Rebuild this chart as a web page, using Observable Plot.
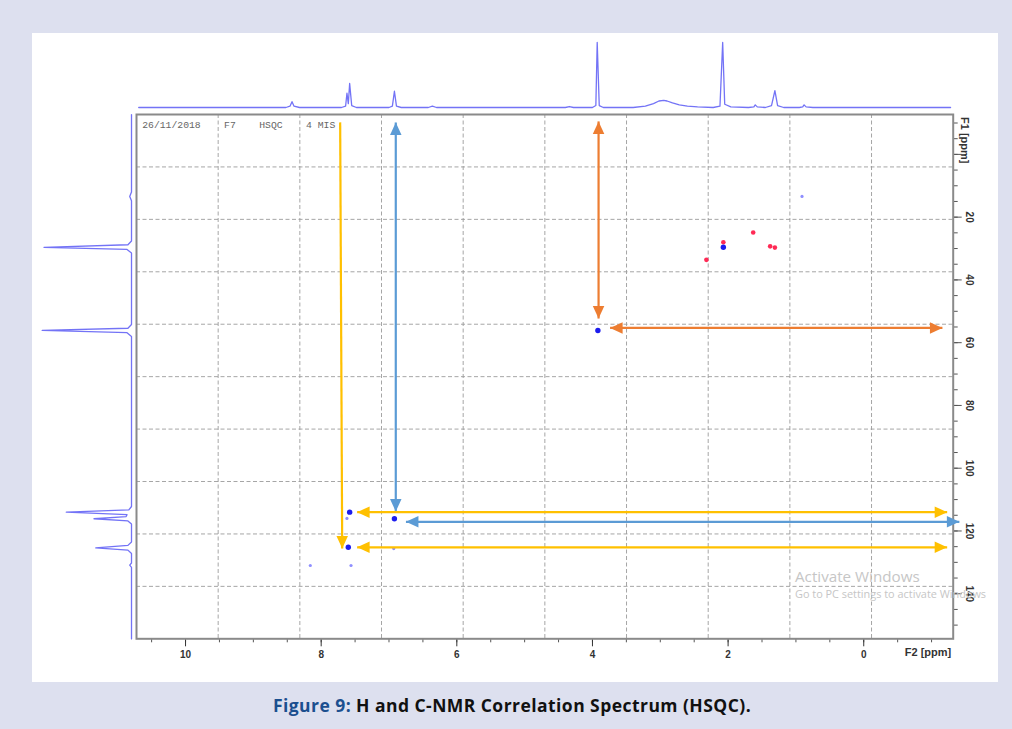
<!DOCTYPE html>
<html><head><meta charset="utf-8">
<script src="https://cdn.jsdelivr.net/npm/d3@7"></script>
<script src="https://cdn.jsdelivr.net/npm/@observablehq/plot@0.6"></script>
<style>
html,body{margin:0;padding:0;background:#dde0ef;width:1012px;height:729px;overflow:hidden;}
#panel{position:absolute;left:32px;top:33px;width:966px;height:649px;background:#fff;}
#panel svg{position:absolute;left:0;top:0;}
#cap{position:absolute;left:6px;width:1012px;top:693px;text-align:center;font-family:"Open Sans";font-weight:700;font-size:17.5px;letter-spacing:0.45px;color:#111;white-space:nowrap;}
#cap .fig{color:#1b4f8f;}
.wm{position:absolute;color:#c6c6c6;font-family:"Open Sans";white-space:nowrap;}
</style></head><body>
<div id="panel"></div>
<div id="cap"><span class="fig">Figure 9:</span> H and C-NMR Correlation Spectrum (HSQC).</div>
<div class="wm" style="left:795px;top:566px;font-size:15.2px">Activate Windows</div>
<div class="wm" style="left:795px;top:586px;font-size:10.9px">Go to PC settings to activate Windows</div>
<script>
// ---- data (ppm values) ----
// 1H projection (F2): [ppm, relative intensity]
const hProjection = [[10.69,0],[8.52,0],[8.46,0.02],[8.43,0.09],[8.40,0.02],[8.32,0],[7.70,0],[7.64,0.02],[7.62,0.22],[7.60,0.06],[7.58,0.37],[7.55,0.03],[7.48,0],[7.00,0],[6.95,0.02],[6.92,0.25],[6.89,0.02],[6.82,0],[6.42,0],[6.36,0.02],[6.30,0],[4.40,0],[4.34,0.015],[4.28,0],[4.00,0],[3.95,0.03],[3.93,1.0],[3.90,0.03],[3.84,0],[3.40,0],[3.22,0.02],[3.10,0.06],[3.02,0.10],[2.95,0.11],[2.90,0.10],[2.82,0.07],[2.72,0.04],[2.60,0.02],[2.45,0.01],[2.22,0],[2.12,0.02],[2.08,1.0],[2.05,0.05],[1.96,0.01],[1.70,0],[1.62,0.01],[1.60,0.04],[1.57,0.01],[1.45,0],[1.36,0.03],[1.31,0.26],[1.27,0.03],[1.18,0],[0.95,0],[0.90,0.01],[0.88,0.04],[0.85,0.01],[0.75,0],[-1.28,0]];
// 13C projection (F1): [ppm, relative intensity]
const cProjection = [[-12.7,0],[12.0,0],[13.4,0.02],[14.8,0],[27.6,0],[28.8,0.04],[29.6,0.98],[30.3,0.05],[31.4,0],[54.2,0],[55.4,0.04],[56.1,1.0],[56.8,0.05],[58.0,0],[112.2,0],[113.3,0.03],[114.0,0.73],[114.8,0.05],[115.4,0.06],[116.1,0.42],[116.8,0.04],[117.8,0],[123.5,0],[124.6,0.04],[125.4,0.40],[126.1,0.04],[127.2,0],[130.2,0],[130.9,0.02],[131.6,0],[154.4,0]];
// HSQC cross peaks (F2 = 1H ppm, F1 = 13C ppm)
const strongH = [2.07, 3.92, 7.58, 6.92, 7.60];
const strongC = [29.6, 56.1, 114.0, 116.1, 125.2];
const faintH  = [0.91, 7.62, 8.16, 7.56, 6.93];
const faintC  = [13.4, 116.0, 131.0, 131.0, 125.6];
const ch2H    = [2.07, 1.63, 1.38, 1.31, 2.32];
const ch2C    = [28.0, 24.9, 29.3, 29.7, 33.6];
// annotation arrows (ppm coordinates)
const orangeArrows = [{x1:3.91,y1:-10.5,x2:3.91,y2:52.3,start:true,end:true},{x1:3.74,y1:55.3,x2:-1.16,y2:55.3,start:true,end:true}];
const blueArrows   = [{x1:6.90,y1:-10.2,x2:6.90,y2:113.8,start:true,end:true},{x1:6.75,y1:117.1,x2:-1.41,y2:117.1,start:true,end:true}];
const yellowArrows = [{x1:7.72,y1:-10.2,x2:7.69,y2:125.6,start:false,end:true},{x1:7.47,y1:114.0,x2:-1.23,y2:114.0,start:true,end:true},{x1:7.47,y1:125.2,x2:-1.23,y2:125.2,start:true,end:true}];
// axes
const xLabelTicks = [10, 8, 6, 4, 2, 0];
const yLabelTicks = [20, 40, 60, 80, 100, 120, 140];
const headerText = "26/11/2018\u00a0\u00a0\u00a0\u00a0F7\u00a0\u00a0\u00a0\u00a0HSQC\u00a0\u00a0\u00a0\u00a04\u00a0MIS";

// ---- layout ----
const W = 966, H = 649;
const mL = 104, mR = 45.3, mT = 81, mB = 43.7;
const xDomain = [10.723, -1.319];
const yDomain = [-12.71, 154.36];
const pxX = (W - mL - mR) / Math.abs(xDomain[1] - xDomain[0]);
const pxY = (H - mT - mB) / Math.abs(yDomain[1] - yDomain[0]);

const gridX = d3.range(1, 10).map(i => xDomain[0] + i * (xDomain[1] - xDomain[0]) / 10);
const gridY = d3.range(1, 10).map(i => yDomain[0] + i * (yDomain[1] - yDomain[0]) / 10);
const xMinor = d3.range(-1, 10.75, 0.5);
const yMinor = d3.range(-10, 155, 5);
const yMajor = d3.range(0, 141, 20);

function headSymbol(dx, dy) {
  return {draw(ctx, size) {
    const s = Math.sqrt(size / Math.PI);
    const L = 2.5 * s, Wd = 1.15 * s;
    const px = -dy, py = dx;
    ctx.moveTo(0, 0);
    ctx.lineTo(-dx * L + px * Wd, -dy * L + py * Wd);
    ctx.lineTo(-dx * L - px * Wd, -dy * L - py * Wd);
    ctx.closePath();
  }};
}
const DIRS = {up:[0,-1], down:[0,1], left:[-1,0], right:[1,0]};
function heads(arrows) {
  const out = [];
  for (const a of arrows) {
    const vertical = Math.abs(a.y2 - a.y1) * pxY > Math.abs(a.x2 - a.x1) * pxX;
    if (a.start) out.push({x: a.x1, y: a.y1, dir: vertical ? (a.y1 < a.y2 ? "up" : "down") : (a.x1 > a.x2 ? "left" : "right")});
    if (a.end) out.push({x: a.x2, y: a.y2, dir: vertical ? (a.y2 < a.y1 ? "up" : "down") : (a.x2 > a.x1 ? "left" : "right")});
  }
  return out;
}
function arrowMarks(arrows, color) {
  const hs = heads(arrows);
  const marks = [Plot.link(arrows, {x1: "x1", y1: "y1", x2: "x2", y2: "y2", stroke: color, strokeWidth: 2.2})];
  for (const d of Object.keys(DIRS)) {
    const sub = hs.filter(h => h.dir === d);
    if (sub.length) marks.push(Plot.dot(sub, {x: "x", y: "y", r: 5, symbol: headSymbol(...DIRS[d]), fill: color, stroke: "none"}));
  }
  return marks;
}

const tickFont = {fontSize: 10, fontWeight: "bold", fontFamily: "Liberation Sans, Arial, sans-serif"};

const main = Plot.plot({
  width: W, height: H, marginLeft: mL, marginRight: mR, marginTop: mT, marginBottom: mB,
  style: {background: "transparent", overflow: "visible"},
  x: {domain: xDomain, axis: null, label: null},
  y: {domain: yDomain, reverse: true, axis: null, label: null},
  marks: [
    Plot.ruleX(gridX, {x: d => d, stroke: "#9c9c9c", strokeDasharray: "4,2.5", strokeWidth: 0.9}),
    Plot.ruleY(gridY, {y: d => d, stroke: "#9c9c9c", strokeDasharray: "4,2.5", strokeWidth: 0.9}),
    Plot.axisX({ticks: xMinor, tickSize: 4, tickFormat: () => "", label: null, color: "#555"}),
    Plot.axisX({ticks: xLabelTicks, tickSize: 8, tickPadding: 4, label: null, color: "#333", ...tickFont}),
    Plot.axisY({anchor: "right", ticks: yMinor, tickSize: 4, tickFormat: () => "", label: null, color: "#555"}),
    Plot.axisY({anchor: "right", ticks: yMajor, tickSize: 8, tickFormat: () => "", label: null, color: "#555"}),
    Plot.frame({stroke: "#8a8a8a", strokeWidth: 2}),
    Plot.text(yLabelTicks, {y: d => d, text: d => String(d), frameAnchor: "right", dx: 15.6, rotate: 90, textAnchor: "middle", fill: "#333", ...tickFont}),
    Plot.text(["F1 [ppm]"], {text: d => d, frameAnchor: "top-right", dx: 15.6, dy: 2.5, rotate: 90, textAnchor: "start", fill: "#333", fontSize: 11, fontWeight: "bold", fontFamily: "Liberation Sans, Arial, sans-serif"}),
    Plot.text(["F2 [ppm]"], {text: d => d, frameAnchor: "bottom-right", dx: -2, dy: 17, textAnchor: "end", fill: "#333", fontSize: 11, fontWeight: "bold", fontFamily: "Liberation Sans, Arial, sans-serif"}),
    Plot.text([headerText], {text: d => d, frameAnchor: "top-left", dx: 5.7, dy: 6.3, textAnchor: "start", lineAnchor: "top", fill: "#666", fontSize: 9.75, fontFamily: "Liberation Mono, DejaVu Sans Mono, monospace"}),
    Plot.dot(faintH.map((h, i) => ({h, c: faintC[i]})), {x: "h", y: "c", r: 1.6, fill: "#8f8fff", stroke: "none"}),
    Plot.dot(ch2H.map((h, i) => ({h, c: ch2C[i]})), {x: "h", y: "c", r: 2.3, fill: "#ff2a55", stroke: "none"}),
    Plot.dot(strongH.map((h, i) => ({h, c: strongC[i]})), {x: "h", y: "c", r: 2.7, fill: "#1c1cee", stroke: "none"}),
    ...arrowMarks(orangeArrows, "#ed7d31"),
    ...arrowMarks(blueArrows, "#5b9bd5"),
    ...arrowMarks(yellowArrows, "#ffc000")
  ]
});

const top1H = Plot.plot({
  width: W, height: mT, marginLeft: mL, marginRight: mR, marginTop: 9, marginBottom: 7,
  style: {background: "transparent", overflow: "visible"},
  x: {domain: xDomain, axis: null, label: null},
  y: {domain: [0, 1], axis: null, label: null},
  marks: [
    Plot.line(hProjection, {x: d => d[0], y: d => d[1], stroke: "#5a5af5", strokeWidth: 1.3, strokeOpacity: 0.85})
  ]
});

const left13C = Plot.plot({
  width: mL, height: H, marginLeft: 9.7, marginRight: 5, marginTop: mT, marginBottom: mB,
  style: {background: "transparent", overflow: "visible"},
  x: {domain: [0, 1], reverse: true, axis: null, label: null},
  y: {domain: yDomain, reverse: true, axis: null, label: null},
  marks: [
    Plot.line(cProjection, {x: d => d[1], y: d => d[0], stroke: "#5a5af5", strokeWidth: 1.3, strokeOpacity: 0.85})
  ]
});

const panel = document.getElementById("panel");
panel.appendChild(main);
panel.appendChild(top1H);
panel.appendChild(left13C);
</script>
</body></html>
